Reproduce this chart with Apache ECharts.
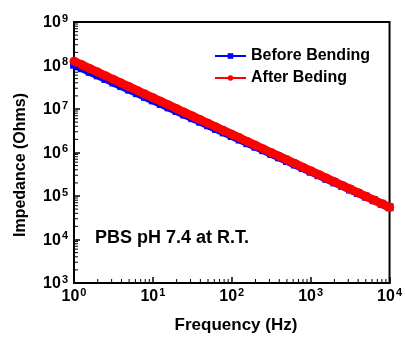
<!DOCTYPE html>
<html><head><meta charset="utf-8">
<script src="https://cdn.jsdelivr.net/npm/echarts@6/dist/echarts.min.js"></script>
<style>html,body{margin:0;padding:0;background:#fff}#c{width:405px;height:338px}</style>
</head><body><div id="c"></div>
<script>
const frequency = [1,1.26,1.58,2,2.51,3.16,3.98,5.01,6.31,7.94,
 10,12.6,15.8,20,25.1,31.6,39.8,50.1,63.1,79.4,
 100,126,158,200,251,316,398,501,631,794,
 1000,1260,1580,2000,2510,3160,3980,5010,6310,7940,10000];
const beforeBending = [1.047e8,8.67e7,7.18e7,5.94e7,4.92e7,4.07e7,3.37e7,2.79e7,2.31e7,1.91e7,
 1.58e7,1.31e7,1.09e7,8.99e6,7.45e6,6.17e6,5.11e6,4.23e6,3.50e6,2.90e6,
 2.40e6,1.99e6,1.64e6,1.36e6,1.13e6,9.33e5,7.73e5,6.40e5,5.30e5,4.39e5,
 3.63e5,3.01e5,2.49e5,2.06e5,1.71e5,1.41e5,1.17e5,9.68e4,8.02e4,6.64e4,5.50e4];
const afterBeding = [1.259e8,1.038e8,8.55e7,7.05e7,5.81e7,4.79e7,3.94e7,3.25e7,2.68e7,2.21e7,
 1.82e7,1.50e7,1.24e7,1.02e7,8.39e6,6.92e6,5.70e6,4.70e6,3.87e6,3.19e6,
 2.63e6,2.17e6,1.79e6,1.47e6,1.21e6,1.00e6,8.24e5,6.79e5,5.60e5,4.61e5,
 3.80e5,3.13e5,2.58e5,2.13e5,1.75e5,1.45e5,1.19e5,9.82e4,8.09e4,6.67e4,5.50e4];
const seriesNames = ['Before Bending','After Beding'];
const xTitle = 'Frequency (Hz)';
const yTitle = 'Impedance (Ohms)';
const note = 'PBS pH 7.4 at R.T.';
const xMinorTicks = [];
for (const d of [1,10,100,1000]) for (const m of [2,3,4,5,6,7,8,9]) xMinorTicks.push(d*m);
const yMinorTicks = [];
for (const d of [1e3,1e4,1e5,1e6,1e7,1e8]) for (const m of [2,3,4,5,6,7,8,9]) yMinorTicks.push(d*m);

const FF = '"Liberation Sans", Arial, sans-serif';
const fmt = v => '{b|10}{s|' + Math.round(Math.log10(v)) + '}';
const rich = {
  b:{fontSize:16,fontWeight:'bold',fontFamily:FF,color:'#000',lineHeight:18,verticalAlign:'bottom'},
  s:{fontSize:11,fontWeight:'bold',fontFamily:FF,color:'#000',lineHeight:18,verticalAlign:'top',padding:[0,0,0,1]}
};
const chart = echarts.init(document.getElementById('c'), null, {renderer:'canvas'});
const minorData = xMinorTicks.map(v=>({value:[v,1e3],axis:'x'})).concat(yMinorTicks.map(v=>({value:[1,v],axis:'y'})));
chart.setOption({
  animation:false,
  backgroundColor:'#fff',
  grid:{left:74,right:8,top:22,bottom:55,show:true,borderColor:'#000',borderWidth:2},
  xAxis:{type:'log',logBase:10,min:1,max:1e4,splitNumber:4,
    axisLine:{lineStyle:{color:'#000',width:2}},
    axisTick:{inside:true,length:6,lineStyle:{color:'#000',width:1.5}},
    splitLine:{show:false},
    axisLabel:{formatter:fmt,rich:rich,margin:4}},
  yAxis:{type:'log',logBase:10,min:1e3,max:1e9,splitNumber:6,
    axisLine:{lineStyle:{color:'#000',width:2}},
    axisTick:{inside:true,length:6,lineStyle:{color:'#000',width:1.5}},
    splitLine:{show:false},
    axisLabel:{formatter:fmt,rich:rich,margin:6}},
  legend:{orient:'vertical',left:214,top:48,padding:0,itemWidth:31,itemHeight:7,itemGap:6,
    data:seriesNames,
    lineStyle:{width:2},
    textStyle:{fontSize:16,fontWeight:'bold',fontFamily:FF,color:'#000'}},
  series:[
    {name:seriesNames[0],type:'line',data:frequency.map((f,i)=>[f,beforeBending[i]]),
      symbol:'rect',symbolSize:8,color:'#0000ff',lineStyle:{width:8,color:'#0000ff'},itemStyle:{color:'#0000ff'},z:2},
    {name:seriesNames[1],type:'line',data:frequency.map((f,i)=>[f,afterBeding[i]]),
      symbol:'circle',symbolSize:9,color:'#ff0000',lineStyle:{width:8.5,color:'#ff0000'},itemStyle:{color:'#ff0000'},z:3},
    {type:'custom',silent:true,clip:false,z:5,data:minorData,
      renderItem:(params,api)=>{
        const p = api.coord([api.value(0),api.value(1)]);
        const isX = minorData[params.dataIndex].axis==='x';
        const shape = isX ? {x1:p[0],y1:p[1],x2:p[0],y2:p[1]-4} : {x1:p[0],y1:p[1],x2:p[0]+4,y2:p[1]};
        return {type:'line',shape:shape,style:{stroke:'#000',lineWidth:1}};
      }}
  ],
  graphic:[
    {type:'text',x:21,y:165,rotation:Math.PI/2,style:{text:yTitle,font:'bold 16px '+FF,fill:'#000',align:'center',verticalAlign:'middle'}},
    {type:'text',x:236,y:325,style:{text:xTitle,font:'bold 17px '+FF,fill:'#000',align:'center',verticalAlign:'middle'}},
    {type:'text',x:95,y:238,style:{text:note,font:'bold 18px '+FF,fill:'#000',align:'left',verticalAlign:'middle'}}
  ]
});
</script></body></html>
